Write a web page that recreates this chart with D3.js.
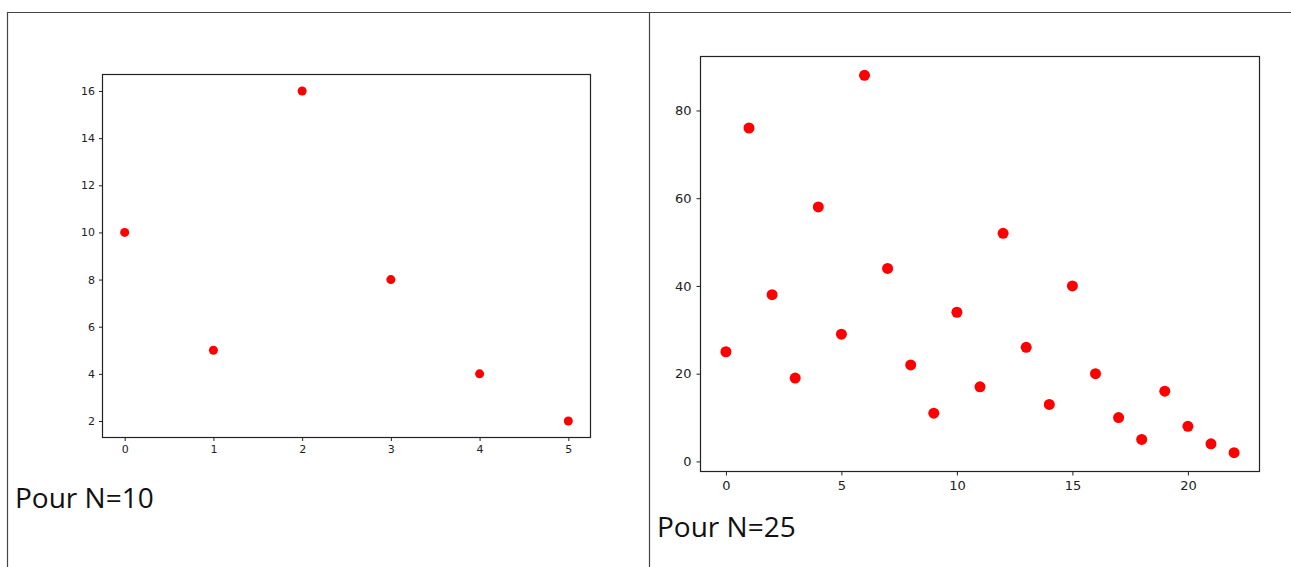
<!DOCTYPE html>
<html>
<head>
<meta charset="utf-8">
<script src="https://cdn.jsdelivr.net/npm/d3@7"></script>
<style>
  body { margin: 0; background: #fff; }
  .tick text { font-family: "DejaVu Sans", sans-serif; fill: #222; }
  .domain { display: none; }
</style>
</head>
<body>
<script>
// data
var xSmall = [0, 1, 2, 3, 4, 5];
var ySmall = [10, 5, 16, 8, 4, 2];
var xSmallTicks = [0, 1, 2, 3, 4, 5];
var ySmallTicks = [2, 4, 6, 8, 10, 12, 14, 16];

var xBig = [0, 1, 2, 3, 4, 5, 6, 7, 8, 9, 10, 11, 12, 13, 14, 15, 16, 17, 18, 19, 20, 21, 22];
var yBig = [25, 76, 38, 19, 58, 29, 88, 44, 22, 11, 34, 17, 52, 26, 13, 40, 20, 10, 5, 16, 8, 4, 2];
var xBigTicks = [0, 5, 10, 15, 20];
var yBigTicks = [0, 20, 40, 60, 80];

var captions = ["Pour N=10", "Pour N=25"];

var w = 1291, h = 567;
var svg = d3.select("body").append("svg")
    .attr("width", w)
    .attr("height", h);

// outer table-like borders
svg.append("line").attr("x1", 7).attr("x2", w).attr("y1", 12.5).attr("y2", 12.5)
    .attr("stroke", "#444").attr("stroke-width", 1.2);
svg.append("line").attr("x1", 7.5).attr("x2", 7.5).attr("y1", 12).attr("y2", h)
    .attr("stroke", "#444").attr("stroke-width", 1.2);
svg.append("line").attr("x1", 649.5).attr("x2", 649.5).attr("y1", 12).attr("y2", h)
    .attr("stroke", "#444").attr("stroke-width", 1.2);

//draw one scatter panel
function panel(opt) {
    var xs = opt.xs, ys = opt.ys;
    var xMin = d3.min(xs), xMax = d3.max(xs), yMin = d3.min(ys), yMax = d3.max(ys);
    var mx = (xMax - xMin) * 0.05, my = (yMax - yMin) * 0.05;
    var x = d3.scaleLinear().domain([xMin - mx, xMax + mx]).range([opt.left, opt.right]);
    var y = d3.scaleLinear().domain([yMin - my, yMax + my]).range([opt.bottom, opt.top]);

    var g = svg.append("g");

    g.selectAll("circle")
        .data(xs)
        .enter()
        .append("circle")
        .attr("cx", function(d){ return x(d); })
        .attr("cy", function(d, i){ return y(ys[i]); })
        .attr("r", opt.r)
        .attr("fill", "#ff0000");

    var xa = g.append("g")
        .attr("transform", "translate(0," + opt.bottom + ")")
        .call(d3.axisBottom(x).tickValues(opt.xt).tickFormat(d3.format("d"))
            .tickSize(opt.tick).tickPadding(opt.pad).tickSizeOuter(0));
    var ya = g.append("g")
        .attr("transform", "translate(" + opt.left + ",0)")
        .call(d3.axisLeft(y).tickValues(opt.yt).tickFormat(d3.format("d"))
            .tickSize(opt.tick).tickPadding(opt.pad).tickSizeOuter(0));
    [xa, ya].forEach(function(a){
        a.selectAll("text").style("font-size", opt.fs + "px");
        a.selectAll("line").attr("stroke", "#222");
    });

    g.append("rect")
        .attr("x", opt.left).attr("y", opt.top)
        .attr("width", opt.right - opt.left)
        .attr("height", opt.bottom - opt.top)
        .attr("fill", "none")
        .attr("stroke", "#222")
        .attr("stroke-width", 1.2);

    svg.append("text")
        .attr("x", opt.capX).attr("y", opt.capY)
        .style("font-family", "'Open Sans', sans-serif")
        .style("font-size", "28px")
        .style("fill", "#111")
        .text(opt.caption);
}

panel({ xs: xSmall, ys: ySmall, xt: xSmallTicks, yt: ySmallTicks,
        left: 102.5, right: 590.5, top: 74.5, bottom: 437.5,
        r: 4.5, tick: 3.5, pad: 4, fs: 11,
        caption: captions[0], capX: 15, capY: 508 });

panel({ xs: xBig, ys: yBig, xt: xBigTicks, yt: yBigTicks,
        left: 700.5, right: 1259.5, top: 56.5, bottom: 471.5,
        r: 5.5, tick: 4, pad: 5, fs: 13,
        caption: captions[1], capX: 657, capY: 537 });
</script>
</body>
</html>
